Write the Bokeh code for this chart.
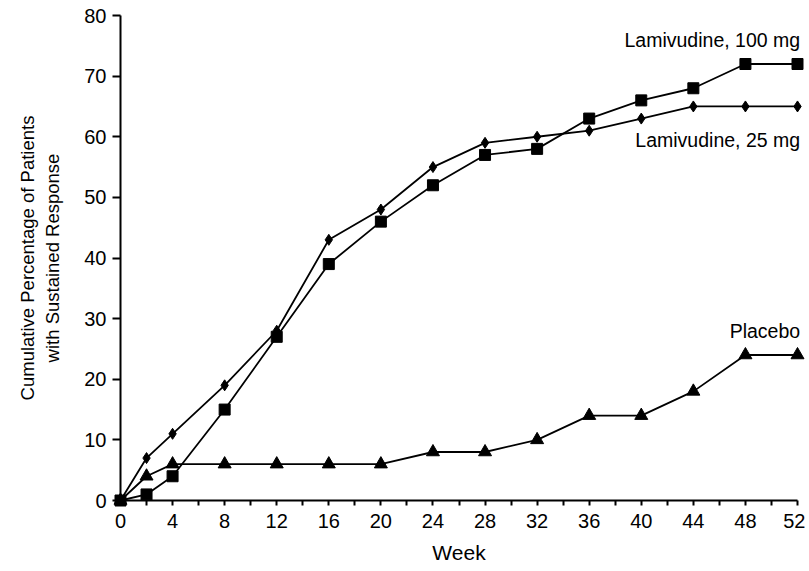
from bokeh.plotting import figure
from bokeh.models import Range1d, FixedTicker, ColumnDataSource
from bokeh.core.properties import value
from bokeh.embed import file_html
from bokeh.resources import INLINE

weeks = [0, 2, 4, 8, 12, 16, 20, 24, 28, 32, 36, 40, 44, 48, 52]
lam100 = [0, 1, 4, 15, 27, 39, 46, 52, 57, 58, 63, 66, 68, 72, 72]
lam25 = [0, 7, 11, 19, 28, 43, 48, 55, 59, 60, 61, 63, 65, 65, 65]
placebo = [0, 4, 6, 6, 6, 6, 6, 8, 8, 10, 14, 14, 18, 24, 24]

x_major = [0, 4, 8, 12, 16, 20, 24, 28, 32, 36, 40, 44, 48, 52]
x_minor = [2, 6, 10, 14, 18, 22, 26, 30, 34, 38, 42, 46, 50]
y_ticks = [0, 10, 20, 30, 40, 50, 60, 70, 80]

series_labels = ["Lamivudine, 100 mg", "Lamivudine, 25 mg", "Placebo"]
label_x = [52.2, 52.2, 52.2]
label_y = [75.9, 59.4, 27.9]

FONT = "Liberation Sans"

p = figure(width=805, height=571, output_backend="svg", toolbar_location=None,
           x_range=Range1d(0, 52), y_range=Range1d(0, 80),
           min_border_left=120, min_border_right=8, min_border_top=15,
           min_border_bottom=71)
p.outline_line_color = None
p.grid.visible = False
p.background_fill_color = "white"

for ax in (p.xaxis[0], p.yaxis[0]):
    ax.axis_line_width = 2
    ax.axis_line_color = "black"
    ax.major_tick_line_width = 2
    ax.minor_tick_line_width = 2
    ax.major_tick_line_color = "black"
    ax.minor_tick_line_color = "black"
    ax.major_label_text_font = FONT
    ax.major_label_text_font_size = "20px"
    ax.major_label_text_color = "black"
    ax.axis_label_text_font = FONT
    ax.axis_label_text_font_style = "normal"
    ax.axis_label_text_color = "black"

p.xaxis.ticker = FixedTicker(ticks=x_major, minor_ticks=x_minor)
p.xaxis.major_tick_in = 0
p.xaxis.major_tick_out = 5
p.xaxis.minor_tick_in = 0
p.xaxis.minor_tick_out = 5
p.xaxis.major_label_standoff = 8
p.xaxis.axis_label = "Week"
p.xaxis.axis_label_text_font_size = "21px"
p.xaxis.axis_label_standoff = 10

p.yaxis.ticker = FixedTicker(ticks=y_ticks, minor_ticks=[])
p.yaxis.major_tick_in = 0
p.yaxis.major_tick_out = 8
p.yaxis.major_label_standoff = 6
p.yaxis.axis_label = "Cumulative Percentage of Patients\nwith Sustained Response"
p.yaxis.axis_label_text_font_size = "18.5px"
p.yaxis.axis_label_standoff = 18

src = ColumnDataSource(dict(w=weeks, a=lam100, b=lam25, c=placebo))

for col, marker, size in (("c", "triangle", 13), ("b", "diamond", 11), ("a", "square", 11)):
    p.line("w", col, source=src, line_color="black", line_width=1.8, level="overlay")
    p.scatter("w", col, source=src, marker=marker, size=size, fill_color="black",
              line_color="black", level="overlay")

lsrc = ColumnDataSource(dict(x=label_x, y=label_y, t=series_labels))
p.text("x", "y", text="t", source=lsrc, text_align="right", text_baseline="middle",
       text_font=value(FONT), text_font_size="19.5px", text_color="black", level="overlay")

open("out.html", "w").write(file_html(p, INLINE))
